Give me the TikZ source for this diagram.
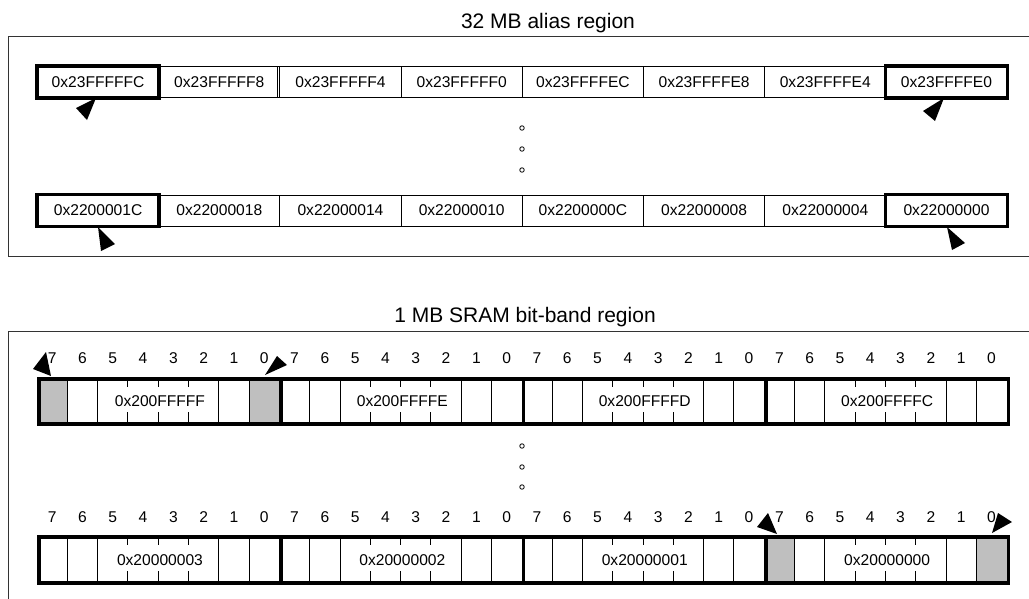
\documentclass[tikz,border=0pt]{standalone}
\usepackage{fontspec}
\setmainfont{Liberation Sans}
\begin{document}
\begin{tikzpicture}[x=1pt,y=-1pt,
  frame/.style={draw=black!80, line width=1pt},
  wordcell/.style={draw, line width=1pt, minimum width=121.2pt, minimum height=31pt, inner sep=0pt, anchor=north west, font=\fontsize{15.6}{18}\selectfont},
  thickbox/.style={draw, line width=3.5pt},
  bytebox/.style={draw, line width=3.5pt, minimum width=242.4pt, minimum height=45pt, inner sep=0pt, anchor=north west, font=\fontsize{15.6}{18}\selectfont},
  thin/.style={line width=1pt},
  bitnum/.style={font=\fontsize{15.6}{18}\selectfont, inner sep=0pt},
  title/.style={font=\fontsize{21}{24}\selectfont, inner sep=0pt, anchor=base},
  grayfill/.style={fill=black!25},
  dot/.style={draw, line width=0.8pt, circle, minimum size=4.5pt, inner sep=0pt},
  head/.style={fill=black}
]
\useasboundingbox (0,0) rectangle (1029,598);
% frames
\draw[frame] (1035,36) -- (8,36) -- (8,256) -- (1035,256);
\draw[frame] (1035,331) -- (8,331) -- (8,605);
% titles
\node[title] (t1) at (548,28) {32 MB alias region};
\node[title] (t2) at (525,322) {1 MB SRAM bit-band region};
% alias words
\foreach \lab [count=\i from 0] in {0x23FFFFFC,0x23FFFFF8,0x23FFFFF4,0x23FFFFF0,0x23FFFFEC,0x23FFFFE8,0x23FFFFE4,0x23FFFFE0}
  \node[wordcell] (a\i) at (37+121.2*\i,66) {\lab};
\foreach \lab [count=\i from 0] in {0x2200001C,0x22000018,0x22000014,0x22000010,0x2200000C,0x22000008,0x22000004,0x22000000}
  \node[wordcell] (b\i) at (37+121.2*\i,194.5) {\lab};
\draw[thin] ([xshift=-2pt]a2.north west) -- ([xshift=-2pt]a2.south west);
\foreach \n in {a0,a7,b0,b7}
  \draw[thickbox] (\n.north west) rectangle (\n.south east);
% dots
\foreach \y [count=\k] in {128,149,170} \node[dot] (d\k) at (522,\y) {};
\foreach \y [count=\k] in {446,467,487} \node[dot] (e\k) at (522,\y) {};
% bit-band bytes
\def\bw{30.3}
% gray cells
\fill[grayfill] (37,377) rectangle (37+\bw,422);
\fill[grayfill] (37+7*\bw,377) rectangle (37+8*\bw,422);
\fill[grayfill] (37+24*\bw,535) rectangle (37+25*\bw,581);
\fill[grayfill] (37+31*\bw,535) rectangle (37+32*\bw,581);
\foreach \r/\top/\bot/\ly in {0/377/422/358, 1/535/581/517} {
  \foreach \B in {0,1,2,3} {
    \foreach \k in {1,2,6,7}
      \draw[thin] (37+\B*242.4+\k*\bw,\top) -- (37+\B*242.4+\k*\bw,\bot);
    \foreach \k in {3,4,5} {
      \draw[thin] (37+\B*242.4+\k*\bw,\top) -- (37+\B*242.4+\k*\bw,\top+10);
      \draw[thin] (37+\B*242.4+\k*\bw,\bot-10) -- (37+\B*242.4+\k*\bw,\bot);
    }
    \foreach \k in {0,...,7} {
      \pgfmathtruncatemacro{\bit}{7-\k}
      \node[bitnum] (n\r-\B-\k) at (37+\B*242.4+\k*\bw+\bw/2,\ly) {\bit};
    }
  }
}
\foreach \lab [count=\i from 0] in {0x200FFFFF,0x200FFFFE,0x200FFFFD,0x200FFFFC}
  \node[bytebox] (c\i) at (37+242.4*\i,377) {\lab};
\foreach \lab [count=\i from 0] in {0x20000003,0x20000002,0x20000001,0x20000000}
  \node[bytebox, minimum height=46pt] (g\i) at (37+242.4*\i,535) {\lab};
% arrowheads
\fill[head] (76,108) -- (96,98) -- (87,120) -- cycle;
\fill[head] (923,111) -- (944,98) -- (935,121) -- cycle;
\fill[head] (98,227) -- (115,244) -- (101,251) -- cycle;
\fill[head] (947,227) -- (965,243) -- (952,250) -- cycle;
\fill[head] (33,369) -- (46,352) -- (51,376) -- cycle;
\fill[head] (265,375) -- (277,356) -- (287,365) -- cycle;
\fill[head] (757,527) -- (768,513) -- (777,534) -- cycle;
\fill[head] (992,533) -- (998,513) -- (1012,522) -- cycle;
\end{tikzpicture}
\end{document}
